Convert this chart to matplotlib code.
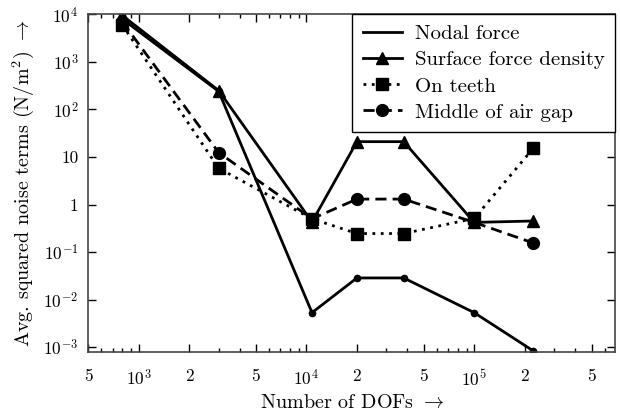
import matplotlib
matplotlib.use('Agg')
import matplotlib.pyplot as plt
from matplotlib.ticker import FixedLocator, FixedFormatter, NullFormatter

plt.rcParams['font.family'] = 'cmr10'
plt.rcParams['mathtext.fontset'] = 'cm'
plt.rcParams['axes.unicode_minus'] = False
plt.rcParams['axes.formatter.use_mathtext'] = True

# Number of degrees of freedom
dofs = [800, 3000, 10800, 20000, 38000, 100000, 225000]

# Avg. squared noise terms (N/m^2)
nodal_force = [8000, 240, 0.0053, 0.0285, 0.0285, 0.0053, 0.00083]
surface_force_density = [9500, 250, 0.43, 21, 21, 0.42, 0.45]
on_teeth = [6000, 5.8, 0.5, 0.245, 0.245, 0.51, 15.3]
middle_air_gap = [7000, 12.4, 0.5, 1.3, 1.3, 0.42, 0.155]

x_major = [500, 1e3, 2e3, 5e3, 1e4, 2e4, 5e4, 1e5, 2e5, 5e5]
x_major_labels = ['5', '$10^3$', '2', '5', '$10^4$', '2', '5', '$10^5$', '2', '5']
y_major = [1e-3, 1e-2, 1e-1, 1, 10, 1e2, 1e3, 1e4]
y_major_labels = ['$10^{-3}$', '$10^{-2}$', '$10^{-1}$', '1', '10', '$10^2$', '$10^3$', '$10^4$']

fig = plt.figure(figsize=(6.2, 4.18), dpi=100)
ax = fig.add_axes([0.142, 0.1586, 0.850, 0.807])

ax.plot(dofs, nodal_force, color='black', lw=2, label='Nodal force')
ax.plot(dofs, nodal_force, color='black', lw=0, marker='o', ms=4.5)
ax.plot(dofs, surface_force_density, color='black', lw=2, marker='^', ms=9,
        label='Surface force density')
ax.plot(dofs, on_teeth, color='black', lw=2, ls=(0, (1, 2)), marker='s', ms=8.5,
        label='On teeth')
ax.plot(dofs, middle_air_gap, color='black', lw=2, ls=(0, (4, 2.2)), marker='o', ms=8.5,
        label='Middle of air gap')

ax.set_xscale('log')
ax.set_yscale('log')
ax.set_xlim(500, 6.9e5)
ax.set_ylim(8e-4, 1e4)

minor_x = [m * 10 ** e for e in (2, 3, 4, 5) for m in (3, 4, 6, 7, 8, 9)]
minor_x = [v for v in minor_x if 500 < v < 6.9e5]
ax.xaxis.set_major_locator(FixedLocator(x_major))
ax.xaxis.set_major_formatter(FixedFormatter(x_major_labels))
ax.xaxis.set_minor_locator(FixedLocator(minor_x))
ax.xaxis.set_minor_formatter(NullFormatter())
ax.yaxis.set_major_locator(FixedLocator(y_major))
ax.yaxis.set_major_formatter(FixedFormatter(y_major_labels))
ax.yaxis.set_minor_locator(FixedLocator([]))

ax.tick_params(which='both', direction='in', top=True, right=True, labelsize=12.5, width=1)
ax.tick_params(which='major', length=6)
ax.tick_params(axis='x', which='major', pad=12)
ax.tick_params(axis='y', which='major', pad=7)
ax.tick_params(which='minor', length=3)
for s in ax.spines.values():
    s.set_linewidth(1.2)
    s.set_color('#444444')

ax.set_xlabel('Number of DOFs $\\rightarrow$', fontsize=14.5, labelpad=4)
ax.set_ylabel('Avg. squared noise terms (N/m$^2$) $\\rightarrow$', fontsize=14.5, labelpad=5)

leg = ax.legend(loc='upper right', fontsize=15, frameon=True, fancybox=False,
                edgecolor='black', framealpha=1, handlelength=1.9, borderpad=0.5,
                labelspacing=0.36, handletextpad=0.6, borderaxespad=0)
leg.get_frame().set_linewidth(1.0)

fig.savefig('out.png', dpi=100)
